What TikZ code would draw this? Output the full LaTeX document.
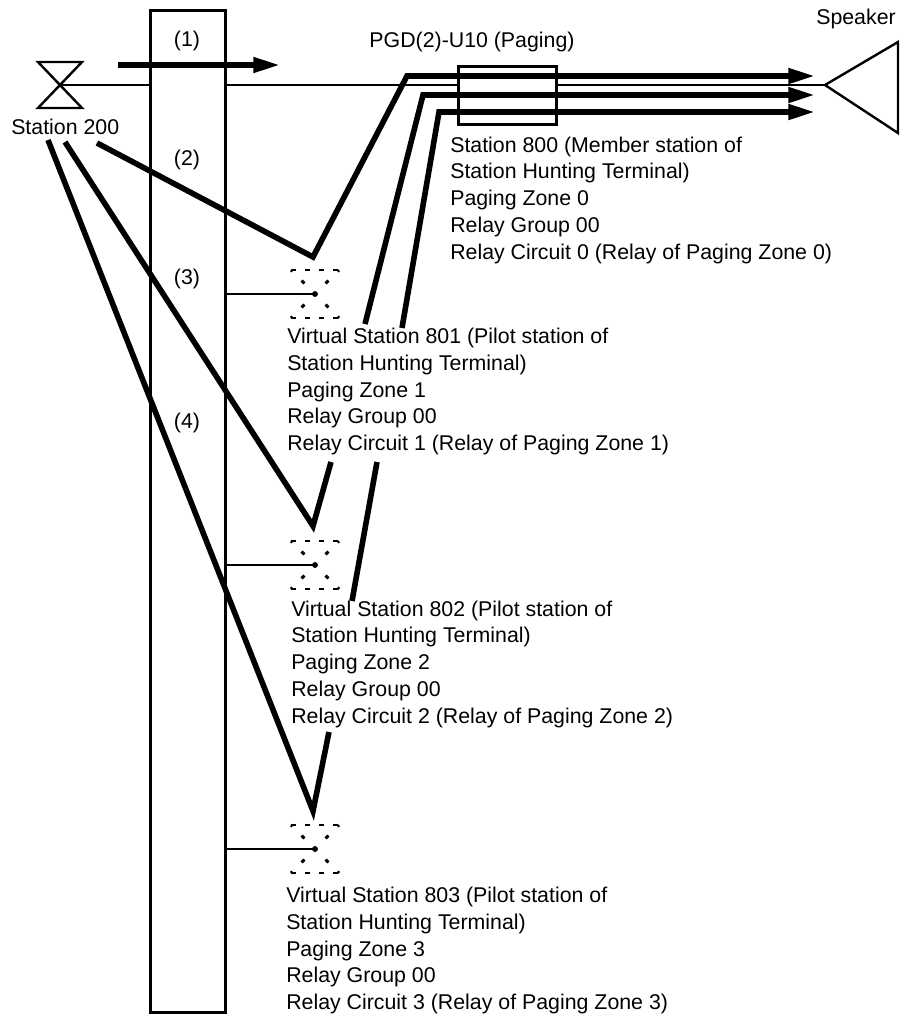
\documentclass[tikz,border=0pt]{standalone}
\usepackage{fontspec}
\setmainfont{Liberation Sans}
\usetikzlibrary{arrows.meta}
\definecolor{inkblack}{RGB}{0,0,0}
\tikzset{
  wall/.style={draw=inkblack,line width=2.25pt},
  thinline/.style={draw=inkblack,line width=1.5pt},
  callpath/.style={draw=inkblack,line width=4.2pt,miter limit=10},
  callarrow/.style={callpath,-{Triangle[length=20pt,width=11pt]}},
  phone/.style={draw=inkblack,line width=1.8pt,line join=miter},
  vflat/.style={draw=inkblack,line width=2.2pt,dash pattern=on 3.75pt off 6.75pt},
  vslope/.style={draw=inkblack,line width=2.2pt,dash pattern=on 3pt off 9.75pt,dash phase=1.5pt},
  infolabel/.style={anchor=north west,align=left,inner sep=0pt,font=\fontsize{16}{20.05}\selectfont},
  steplabel/.style={inner sep=0pt,font=\fontsize{16}{19}\selectfont},
}
\begin{document}
\begin{tikzpicture}[x=0.75pt,y=-0.75pt]
  \useasboundingbox (0,0) rectangle (901,1014);
  % switch frame
  \draw[wall] (150,10) rectangle (225,1012);
  \node[steplabel] (step1) at (187,41) {(1)};
  \node[steplabel] (step2) at (187,159.5) {(2)};
  \node[steplabel] (step3) at (187,279) {(3)};
  \node[steplabel] (step4) at (187,423) {(4)};
  % station 200
  \coordinate (sta) at (60,85);
  \draw[phone] (sta) -- (38,62) -- (82,62) -- cycle;
  \draw[phone] (sta) -- (38,108) -- (82,108) -- cycle;
  \node[steplabel,anchor=north west] (sta label) at (11,119) {Station 200};
  % speaker and PGD box
  \coordinate (spk) at (825,85);
  \draw[phone] (spk) -- (898,42) -- (898,133) -- cycle;
  \node[steplabel] (spk label) at (856,19) {Speaker};
  \node[wall,minimum width=73.5pt,minimum height=43.5pt,inner sep=0pt] (pgd) at (507.5,95.5) {};
  \node[steplabel] (pgd label) at (472,42) {PGD(2)-U10 (Paging)};
  % talk lines
  \coordinate (frameL) at (150,85);
  \coordinate (frameR) at (225,85);
  \draw[thinline] (sta) -- (frameL);
  \draw[thinline] (frameR) -- (pgd.west |- frameR);
  \draw[thinline] (pgd.east |- frameR) -- (spk);
  % virtual stations
  \foreach \name/\ypos in {a/294,b/565,c/849} {
    \coordinate (v\name) at (315,\ypos);
    \draw[vflat] (291,\ypos-24) -- (339,\ypos-24);
    \draw[vflat] (291,\ypos+24) -- (339,\ypos+24);
    \draw[vslope] (291,\ypos-24) -- (v\name);
    \draw[vslope] (339,\ypos-24) -- (v\name);
    \draw[vslope] (291,\ypos+24) -- (v\name);
    \draw[vslope] (339,\ypos+24) -- (v\name);
    \fill[inkblack] (v\name) circle (2.2pt);
    \coordinate (f\name) at (225,\ypos);
    \draw[thinline] (f\name) -- (v\name);
  }
  % paging arrows
  \coordinate (s2) at (97,143);
  \coordinate (s3) at (65,142);
  \coordinate (s4) at (48,140);
  \coordinate (k2) at (313,257);
  \coordinate (k3) at (313,526);
  \coordinate (k4) at (313,811);
  \coordinate (t1) at (407,76);
  \coordinate (t2) at (423,95);
  \coordinate (t3) at (439,112);
  \coordinate (h1) at (815,76);
  \coordinate (h2) at (815,95);
  \coordinate (h3) at (815,112);
  \coordinate (u3) at (331,462);
  \coordinate (u4) at (329,732);
  \coordinate (w2) at (365,324);
  \coordinate (w3) at (402,328);
  \coordinate (x3) at (377,462);
  \coordinate (x4) at (352,601);
  \draw[callarrow] (118,65) -- (280,65);
  \draw[callarrow] (s2) -- (k2) -- (t1) -- (h1);
  \draw[callarrow] (w2) -- (t2) -- (h2);
  \draw[callarrow] (w3) -- (t3) -- (h3);
  \draw[callpath] (s3) -- (k3) -- (u3);
  \draw[callpath] (x3) -- (x4);
  \draw[callpath] (s4) -- (k4) -- (u4);
  % station texts
  \node[infolabel] (info0) at (450,136.5) {Station 800 (Member station of\\Station Hunting Terminal)\\Paging Zone 0\\Relay Group 00\\Relay Circuit 0 (Relay of Paging Zone 0)};
  \node[infolabel] (info1) at (287,328) {Virtual Station 801 (Pilot station of\\Station Hunting Terminal)\\Paging Zone 1\\Relay Group 00\\Relay Circuit 1 (Relay of Paging Zone 1)};
  \node[infolabel] (info2) at (291,600.5) {Virtual Station 802 (Pilot station of\\Station Hunting Terminal)\\Paging Zone 2\\Relay Group 00\\Relay Circuit 2 (Relay of Paging Zone 2)};
  \node[infolabel] (info3) at (286,887) {Virtual Station 803 (Pilot station of\\Station Hunting Terminal)\\Paging Zone 3\\Relay Group 00\\Relay Circuit 3 (Relay of Paging Zone 3)};
\end{tikzpicture}
\end{document}
